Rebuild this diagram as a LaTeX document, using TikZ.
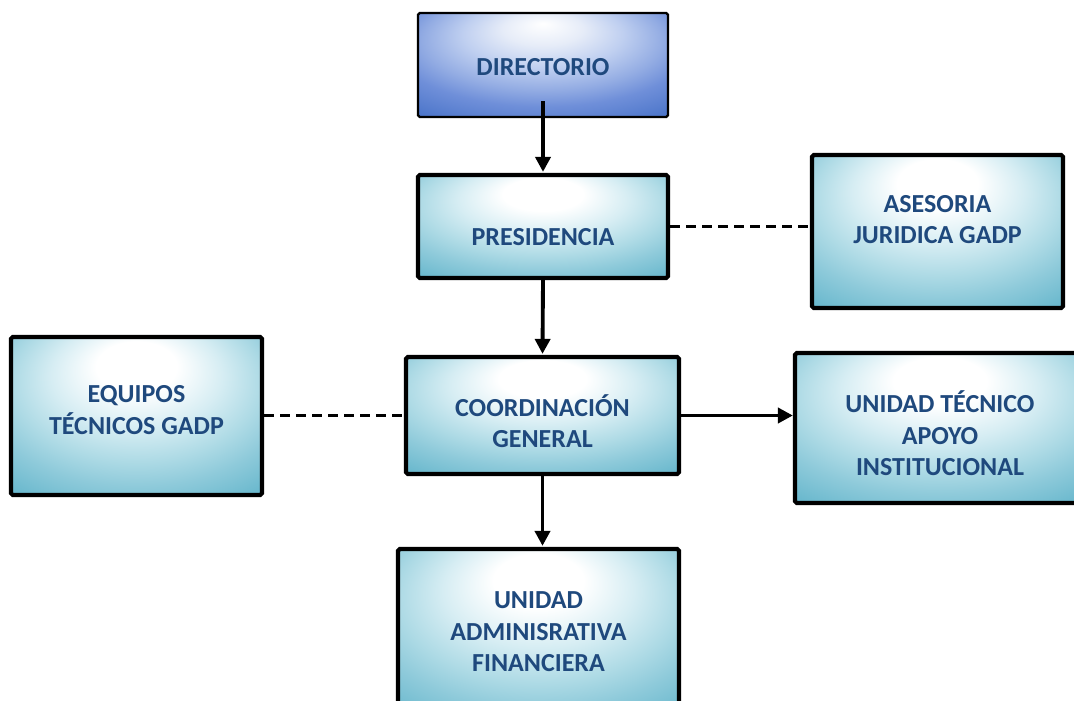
\documentclass[tikz,border=0pt]{standalone}
\usepackage{fontspec}
\setmainfont{Carlito}
\usetikzlibrary{arrows.meta}
\definecolor{orgtext}{HTML}{1F497D}
\definecolor{aquaA}{HTML}{D6EDF3}
\definecolor{aquaB}{HTML}{ADDAE5}
\definecolor{aquaC}{HTML}{8ECADA}
\definecolor{aquaD}{HTML}{5BB1C8}
\definecolor{aquaE}{HTML}{4BA8C2}
\definecolor{blueA}{HTML}{E6ECF8}
\definecolor{blueB}{HTML}{BFCFF0}
\definecolor{blueC}{HTML}{93ACE3}
\definecolor{blueD}{HTML}{6F8FD9}
\definecolor{blueE}{HTML}{4A74C9}
\pgfdeclareradialshading{aquaglow}{\pgfpoint{0bp}{18bp}}{color(0bp)=(white); color(8bp)=(white); color(17bp)=(aquaA); color(25bp)=(aquaB); color(31bp)=(aquaC); color(42bp)=(aquaD); color(60bp)=(aquaE)}
\pgfdeclareradialshading{blueglow}{\pgfpoint{0bp}{20bp}}{color(0bp)=(white); color(8bp)=(blueA); color(16bp)=(blueB); color(24bp)=(blueC); color(30bp)=(blueD); color(40bp)=(blueE); color(60bp)=(blueE!95!black)}
\newcommand{\shifttext}[2]{\raisebox{#1}[\height][\depth]{\begin{tabular}{@{}c@{}}#2\end{tabular}}}
\tikzset{
  box/.style={draw=black, line width=2.4pt, rounded corners=1pt, shading=aquaglow,
    text=orgtext, font=\fontsize{14.8}{18}\selectfont\bfseries, align=center, inner sep=0pt},
  topbox/.style={box, line width=1.3pt, shading=blueglow},
  link/.style={line width=2.2pt, -{Triangle[length=0.3cm, width=0.3cm]}},
  dashlink/.style={line width=2.2pt, dash pattern=on 0.2cm off 0.12cm}
}
\begin{document}
\begin{tikzpicture}
    \useasboundingbox (0,0) rectangle (21.48,-14);
    \clip (0,0) rectangle (21.48,-14);
    % Boxes
    \node[topbox, minimum width=5cm, minimum height=2.08cm] (dir) at (10.86,-1.30) {\shifttext{-0.08cm}{DIRECTORIO}};
    \node[box, minimum width=5cm, minimum height=2.06cm] (pres) at (10.86,-4.53) {\shifttext{-0.26cm}{PRESIDENCIA}};
    \node[box, minimum width=5.02cm, minimum height=3.06cm] (ases) at (18.75,-4.63) {\shifttext{0.2cm}{ASESORIA\\JURIDICA GADP}};
    \node[box, minimum width=5.02cm, minimum height=3.16cm] (equi) at (2.73,-8.32) {\shifttext{0.08cm}{EQUIPOS\\TÉCNICOS GADP}};
    \node[box, minimum width=5.46cm, minimum height=2.34cm] (coord) at (10.85,-8.31) {\shifttext{-0.2cm}{COORDINACIÓN\\GENERAL}};
    \node[box, minimum width=5.8cm, minimum height=3.0cm] (unid) at (18.8,-8.56) {\shifttext{-0.2cm}{UNIDAD TÉCNICO\\APOYO\\INSTITUCIONAL}};
    \node[box, minimum width=5.62cm, minimum height=3.4cm] (admin) at (10.77,-12.68) {\shifttext{0cm}{UNIDAD\\ADMINISRATIVA\\FINANCIERA}};

    % Connectors
    \coordinate (dirout) at ([yshift=0.34cm]dir.south);
    \draw[link] (dirout) -- ([yshift=0.02cm]pres.north);
    \draw[link] (pres.south) -- ([yshift=0.02cm]coord.north);
    \draw[link] (coord.south) -- ([yshift=0.02cm]admin.north -| coord.south);
    \draw[link] (coord.east) -- (coord.east -| unid.west);
    \draw[dashlink] (pres.east) -- (pres.east -| ases.west);
    \draw[dashlink] (equi.east |- coord.west) -- (coord.west);
\end{tikzpicture}
\end{document}
